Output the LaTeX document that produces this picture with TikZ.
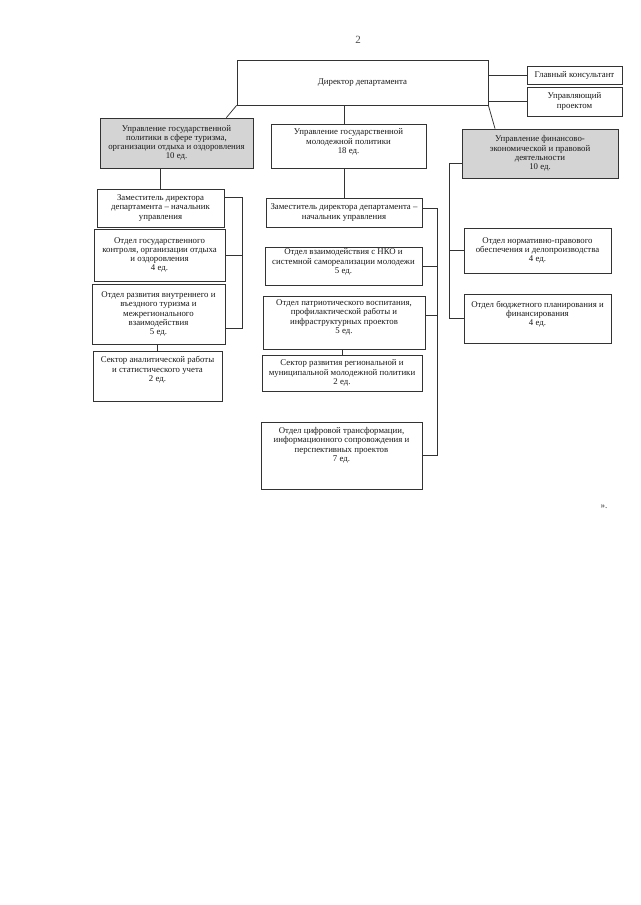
\documentclass[tikz,border=0pt]{standalone}
\usepackage{fontspec}
\setmainfont{Liberation Serif}
\newcommand\padd[1]{\\[#1]\mbox{}}
\begin{document}
\begin{tikzpicture}[x=1pt,y=-1pt,
  box/.style={draw=black!80, line width=0.75pt, rectangle, inner sep=1pt, align=center,
    font=\fontsize{8.8}{9.2}\selectfont, text=black!90},
  shadebox/.style={box, fill=black!17},
  wh/.style 2 args={minimum width=#1pt, minimum height=#2pt},
  wire/.style={draw=black!80, line width=0.75pt}]
\useasboundingbox[fill=white] (0,0) rectangle (640,905);

\node[text=black!70, font=\fontsize{11}{11}\selectfont] (pg) at (358,40) {2};
\node[text=black!80, font=\fontsize{9}{9}\selectfont] (qt) at (604,507) {».};

% top level
\node[box, wh={251}{45}] (dir) at (362.5,82.5) {Директор департамента};
\node[box, wh={95}{18}] (gk) at (574.5,75) {Главный консультант};
\node[box, wh={95}{29}] (up) at (574.5,101.5) {Управляющий\\проектом};

% second level
\node[shadebox, wh={153}{50}] (L0) at (176.5,143) {Управление государственной\\политики в сфере туризма,\\организации отдыха и оздоровления\\10 ед.};
\node[box, wh={155}{44}] (M0) at (348.5,146) {Управление государственной\\молодежной политики\\18 ед.\padd{0.8pt}};
\node[shadebox, wh={156}{49}] (R0) at (540,153.5) {Управление финансово-\\экономической и правовой\\деятельности\\10 ед.};

% left column
\node[box, wh={127}{38}] (L1) at (160.5,208) {Заместитель директора\\департамента – начальник\\управления};
\node[box, wh={131}{52}] (L2) at (159.5,255) {Отдел государственного\\контроля, организации отдыха\\и оздоровления\\4 ед.};
\node[box, wh={133}{60}] (L3) at (158.5,314) {Отдел развития внутреннего и\\въездного туризма и\\межрегионального\\взаимодействия\\5 ед.};
\node[box, wh={129}{50}] (L4) at (157.5,376) {Сектор аналитической работы\\и статистического учета\\2 ед.\padd{4.8pt}};

% middle column
\node[box, wh={156}{29}] (M1) at (344,212.5) {Заместитель директора департамента –\\начальник управления};
\node[box, wh={157}{38}] (M2) at (343.5,266) {Отдел взаимодействия с НКО и\\системной самореализации молодежи\\5 ед.\padd{0.8pt}};
\node[box, wh={162}{53}] (M3) at (344,322.5) {Отдел патриотического воспитания,\\профилактической работы и\\инфраструктурных проектов\\5 ед.\padd{2.8pt}};
\node[box, wh={160}{36}] (M4) at (342,373) {Сектор развития региональной и\\муниципальной молодежной политики\\2 ед.};
\node[box, wh={161}{67}] (M5) at (341.5,455.5) {Отдел цифровой трансформации,\\информационного сопровождения и\\перспективных проектов\\7 ед.\padd{12.8pt}};

% right column
\node[box, wh={147}{45}] (R1) at (537.5,250.5) {Отдел нормативно-правового\\обеспечения и делопроизводства\\4 ед.};
\node[box, wh={147}{49}] (R2) at (537.5,318.5) {Отдел бюджетного планирования и\\финансирования\\4 ед.\padd{0.8pt}};

% bus coordinates
\coordinate (lb) at (242,0);
\coordinate (mb) at (437,0);
\coordinate (rb) at (449,0);

% connectors from director
\draw[wire] (dir.east |- gk.west) -- (gk.west);
\draw[wire] (dir.east |- up.west) -- (up.west);
\draw[wire] (dir.south west) -- ([xshift=-27pt]L0.north east);
\draw[wire] (M1.north |- dir.south) -- (M1.north |- M0.north);
\draw[wire] (dir.south east) -- ([xshift=-45pt]R0.north);

% left
\draw[wire] (L1.north |- L0.south) -- (L1.north);
\draw[wire] ([yshift=11pt]L1.east) -- ([yshift=11pt]L1.east -| lb) |- ([yshift=-14pt]L3.east);
\draw[wire] (L2.east) -- (L2.east -| lb);
\draw[wire] (L4.north |- L3.south) -- (L4.north);

% middle
\draw[wire] (M1.north |- M0.south) -- (M1.north);
\draw[wire] ([yshift=4.5pt]M1.east) -- ([yshift=4.5pt]M1.east -| mb) |- (M5.east);
\draw[wire] (M2.east) -- (M2.east -| mb);
\draw[wire] ([yshift=7.5pt]M3.east) -- ([yshift=7.5pt]M3.east -| mb);
\draw[wire] (M4.north |- M3.south) -- (M4.north);

% right
\draw[wire] ([yshift=-9.5pt]R0.west) -- ([yshift=-9.5pt]R0.west -| rb) |- (R2.west);
\draw[wire] (R1.west) -- (R1.west -| rb);
\end{tikzpicture}
\end{document}
